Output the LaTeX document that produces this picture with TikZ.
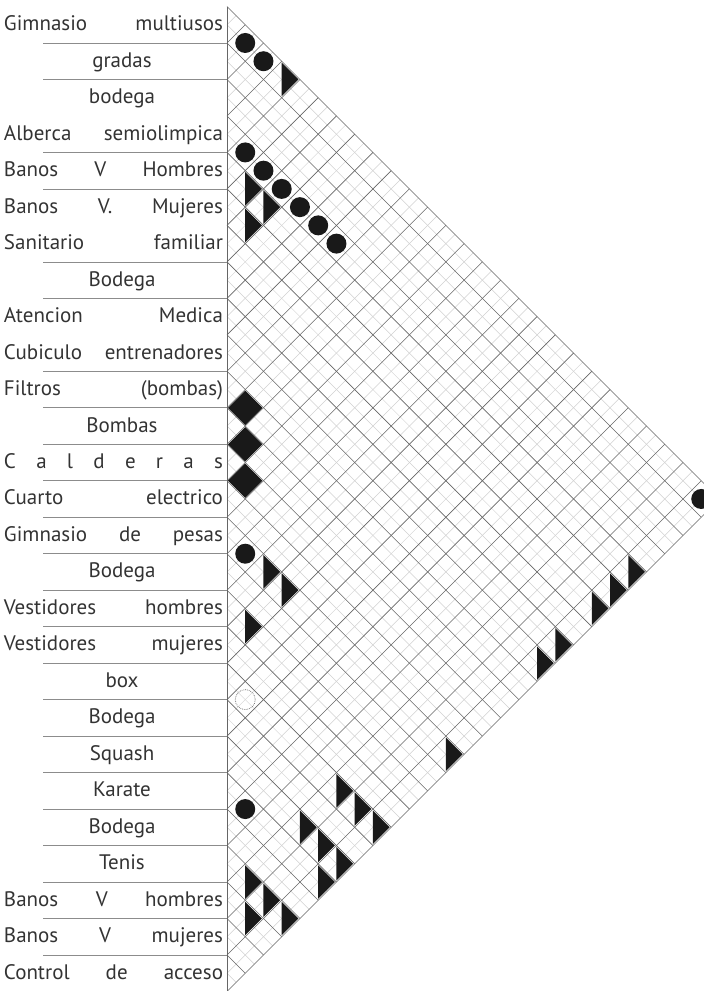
\documentclass[tikz,border=0pt]{standalone}
\usepackage{fontspec}
\setmainfont{PT Sans}
\usetikzlibrary{calc}

% grid origin and half pitch (in px)
\newcommand{\xo}{227}
\newcommand{\yo}{6.5}
\newcommand{\hp}{18.24}

% symbols placed in the cell of rows #1 and #2
\newcommand{\cellpos}[2]{%
  \pgfmathsetmacro{\cx}{\xo+(#2-#1)*\hp}%
  \pgfmathsetmacro{\cy}{\yo+(#1+#2-1)*\hp}}
\newcommand{\circrel}[2]{\cellpos{#1}{#2}\fill[relfill] (\cx,\cy) circle (10);}
\newcommand{\openrel}[2]{\cellpos{#1}{#2}\draw[relopen] (\cx,\cy) circle (10);}
\newcommand{\trirel}[2]{\cellpos{#1}{#2}%
  \fill[relfill] (\cx,\cy-\hp+1.5) -- (\cx,\cy+\hp-1.5) -- (\cx+\hp-1.5,\cy) -- cycle;}
\newcommand{\fullrel}[2]{\cellpos{#1}{#2}%
  \fill[relfill] (\cx-\hp+1,\cy) -- (\cx,\cy-\hp+1) -- (\cx+\hp-1,\cy) -- (\cx,\cy+\hp-1) -- cycle;}

\begin{document}
\begin{tikzpicture}[x=1pt, y=-1pt, font=\fontsize{21}{23}\selectfont,
  lbl/.style={inner sep=0pt, anchor=base, text=black!80},
  sep/.style={black!45, line width=0.6pt},
  gridmain/.style={black!60, line width=0.6pt},
  gridfine/.style={black!18, line width=0.5pt},
  relfill/.style={fill=black!90},
  relopen/.style={draw=black!50, densely dotted, line width=0.8pt}]
\useasboundingbox (0,0) rectangle (704,991);
\clip (0,0) rectangle (704,991);

% fine grid through the row centres
\foreach \k in {1,...,27} {
  \draw[gridfine] (\xo,{\yo+(2*\k-1)*\hp}) -- ++({(55-2*\k)*\hp/2},{(55-2*\k)*\hp/2});
  \draw[gridfine] (\xo,{\yo+(2*\k-1)*\hp}) -- ++({(2*\k-1)*\hp/2},{-(2*\k-1)*\hp/2});
}
% main grid through the row boundaries
\foreach \k in {0,...,26}
  \draw[gridmain] (\xo,{\yo+2*\k*\hp}) -- ++({(27-\k)*\hp},{(27-\k)*\hp});
\foreach \k in {1,...,27}
  \draw[gridmain] (\xo,{\yo+2*\k*\hp}) -- ++({\k*\hp},{-\k*\hp});
\draw[gridmain] (\xo,\yo) -- (\xo,{\yo+54*\hp});

% row separators
\foreach \k in {1,2,4,5,7,8,10,11,...,26}
  \draw[sep] (43,{\yo+2*\k*\hp}) -- (\xo,{\yo+2*\k*\hp});

% row labels
\foreach \k/\t in {1/Gimnasio multiusos, 4/Alberca semiolimpica, 5/Banos V Hombres,
    6/Banos V. Mujeres, 7/Sanitario familiar, 9/Atencion Medica,
    10/Cubiculo entrenadores, 11/Filtros (bombas), 13/C a l d e r a s,
    14/Cuarto electrico, 15/Gimnasio de pesas, 17/Vestidores hombres,
    18/Vestidores mujeres, 25/Banos V hombres, 26/Banos V mujeres,
    27/Control de acceso}
  \node[lbl] (r\k) at (113.5,{\yo+(2*\k-1)*\hp+6}) {\makebox[219pt][s]{\t}};
\foreach \k/\t in {2/gradas, 3/bodega, 8/Bodega, 12/Bombas, 16/Bodega, 19/box,
    20/Bodega, 21/Squash, 22/Karate, 23/Bodega, 24/Tenis}
  \node[lbl] (r\k) at (122,{\yo+(2*\k-1)*\hp+6}) {\t};

% relations
\circrel{1}{2} \circrel{1}{3} \trirel{1}{4} \circrel{1}{27}
\circrel{4}{5} \circrel{4}{6} \circrel{4}{7} \circrel{4}{8} \circrel{4}{9} \circrel{4}{10}
\trirel{5}{6} \trirel{6}{7} \trirel{5}{7}
\trirel{5}{27} \trirel{6}{27} \trirel{7}{27} \trirel{9}{27} \trirel{10}{27}
\fullrel{11}{12} \fullrel{12}{13} \fullrel{13}{14}
\circrel{15}{16} \trirel{15}{17} \trirel{15}{18} \trirel{17}{18} \trirel{15}{27}
\openrel{19}{20}
\trirel{19}{25} \trirel{19}{26} \trirel{19}{27}
\circrel{22}{23}
\trirel{21}{25} \trirel{21}{26} \trirel{21}{27} \trirel{22}{27}
\trirel{24}{25} \trirel{25}{26} \trirel{24}{26} \trirel{24}{27}
\end{tikzpicture}
\end{document}
